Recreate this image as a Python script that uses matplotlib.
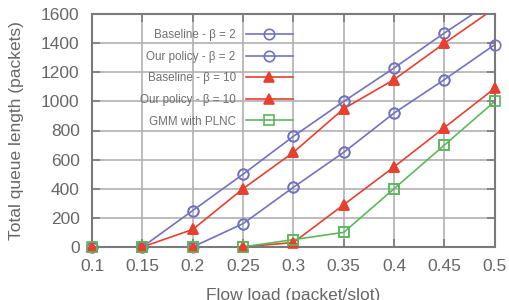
import matplotlib.pyplot as plt

# Flow load values and queue lengths
load = [0.1, 0.15, 0.2, 0.25, 0.3, 0.35, 0.4, 0.45, 0.5]
baseline_b2 = [0, 0, 250, 500, 760, 1000, 1230, 1470, 1700]
policy_b2 = [0, 0, 0, 160, 410, 650, 920, 1150, 1390]
baseline_b10 = [0, 0, 120, 400, 650, 950, 1150, 1400, 1640]
policy_b10 = [0, 0, 0, 0, 30, 290, 550, 820, 1090]
gmm_plnc = [0, 0, 0, 0, 50, 100, 400, 700, 1000]

xticks = [0.1, 0.15, 0.2, 0.25, 0.3, 0.35, 0.4, 0.45, 0.5]
xtick_labels = ['0.1', '0.15', '0.2', '0.25', '0.3', '0.35', '0.4', '0.45', '0.5']
yticks = [0, 200, 400, 600, 800, 1000, 1200, 1400, 1600]
ymax = 1600

plt.rcParams['font.family'] = ['Liberation Sans', 'DejaVu Sans']

blue = '#7272c2'
red = '#e8402f'
green = '#5cb85c'
gray = '#7a7a7a'
text_gray = '#676767'

fig = plt.figure(figsize=(5.09, 3.0), dpi=100)
ax = fig.add_axes([0.181, 0.177, 0.791, 0.776])

series = [
    (baseline_b2, 'Baseline - β = 2', blue, 'o', 'none', 7.5),
    (policy_b2, 'Our policy - β = 2', blue, 'o', 'none', 7.5),
    (baseline_b10, 'Baseline - β = 10', red, '^', red, 7.5),
    (policy_b10, 'Our policy - β = 10', red, '^', red, 7.5),
    (gmm_plnc, 'GMM with PLNC', green, 's', 'none', 7),
]

for vals, name, col, mk, fc, ms in series:
    ax.plot(load, vals, color=col, lw=1.2, marker=mk, ms=ms,
            mfc=fc, mec=col, mew=1.2, label=name)
    # markers at the plot edges are drawn unclipped, as in the original
    xs = [x for x, v in zip(load, vals) if v <= ymax]
    ys = [v for v in vals if v <= ymax]
    ax.plot(xs, ys, ls='none', marker=mk, ms=ms, mfc=fc, mec=col,
            mew=1.2, clip_on=False, zorder=3)

ax.set_xlim(0.1, 0.5)
ax.set_ylim(0, ymax)
ax.set_xticks(xticks)
ax.set_xticklabels(xtick_labels)
ax.set_yticks(yticks)

ax.grid(True, color='#b0b0b0', lw=1.2)
ax.set_axisbelow(True)
for s in ax.spines.values():
    s.set_color(gray)
    s.set_linewidth(1.5)
ax.tick_params(direction='in', colors=gray, labelcolor=text_gray,
               labelsize=12.5, length=6, width=1.2, pad=9,
               top=True, right=True)

ax.set_xlabel('Flow load (packet/slot)', fontsize=12.5, color=text_gray, labelpad=10)
ax.set_ylabel('Total queue length (packets)', fontsize=12.5, color=text_gray, labelpad=12)

leg = ax.legend(loc='upper right', bbox_to_anchor=(0.51, 0.955), frameon=False,
                markerfirst=False, fontsize=8.4, handlelength=4.0,
                labelspacing=0.82, handletextpad=0.9, borderaxespad=0)
for t in leg.get_texts():
    t.set_color('#707070')

fig.savefig('out.png', dpi=100)
